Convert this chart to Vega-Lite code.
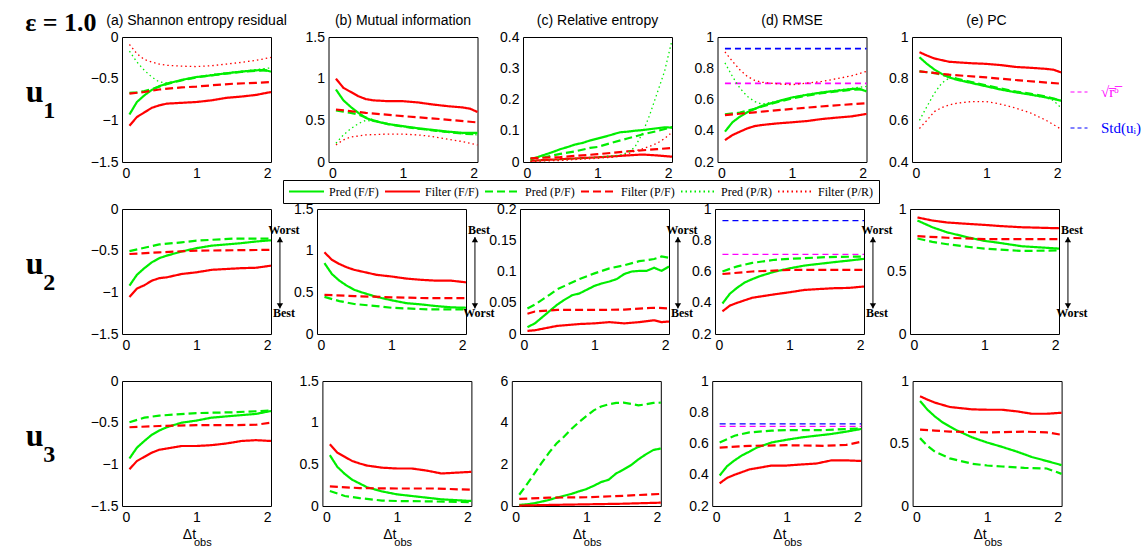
{
  "padding": {"left": 25, "top": 9, "right": 4, "bottom": 4},
  "title": {"text": "ε = 1.0", "anchor": "start", "font": "Liberation Serif", "fontSize": 26, "fontWeight": "bold", "color": "black", "offset": -22},
  "spacing": 20,
  "datasets": {
    "r1a": [
      {"s":"PFF","x":0.1,"y":-0.93},{"s":"PFF","x":0.2,"y":-0.78},{"s":"PFF","x":0.3,"y":-0.7},{"s":"PFF","x":0.4,"y":-0.635},{"s":"PFF","x":0.5,"y":-0.59},{"s":"PFF","x":0.6,"y":-0.56},{"s":"PFF","x":0.8,"y":-0.515},{"s":"PFF","x":1,"y":-0.48},{"s":"PFF","x":1.2,"y":-0.46},{"s":"PFF","x":1.4,"y":-0.435},{"s":"PFF","x":1.6,"y":-0.415},{"s":"PFF","x":1.8,"y":-0.4},{"s":"PFF","x":1.9,"y":-0.395},{"s":"PFF","x":2,"y":-0.415},
      {"s":"FFF","x":0.1,"y":-1.065},{"s":"FFF","x":0.2,"y":-0.96},{"s":"FFF","x":0.3,"y":-0.905},{"s":"FFF","x":0.4,"y":-0.85},{"s":"FFF","x":0.5,"y":-0.82},{"s":"FFF","x":0.6,"y":-0.8},{"s":"FFF","x":0.8,"y":-0.79},{"s":"FFF","x":1,"y":-0.78},{"s":"FFF","x":1.2,"y":-0.76},{"s":"FFF","x":1.4,"y":-0.73},{"s":"FFF","x":1.6,"y":-0.715},{"s":"FFF","x":1.8,"y":-0.695},{"s":"FFF","x":2,"y":-0.66},
      {"s":"PPF","x":0.1,"y":-0.67},{"s":"PPF","x":0.2,"y":-0.665},{"s":"PPF","x":0.3,"y":-0.65},{"s":"PPF","x":0.4,"y":-0.625},{"s":"PPF","x":0.5,"y":-0.595},{"s":"PPF","x":0.6,"y":-0.565},{"s":"PPF","x":0.8,"y":-0.52},{"s":"PPF","x":1,"y":-0.485},{"s":"PPF","x":1.2,"y":-0.46},{"s":"PPF","x":1.4,"y":-0.44},{"s":"PPF","x":1.6,"y":-0.42},{"s":"PPF","x":1.8,"y":-0.405},{"s":"PPF","x":2,"y":-0.4},
      {"s":"FPF","x":0.1,"y":-0.68},{"s":"FPF","x":0.3,"y":-0.66},{"s":"FPF","x":0.5,"y":-0.63},{"s":"FPF","x":0.8,"y":-0.605},{"s":"FPF","x":1,"y":-0.595},{"s":"FPF","x":1.2,"y":-0.58},{"s":"FPF","x":1.5,"y":-0.56},{"s":"FPF","x":1.8,"y":-0.55},{"s":"FPF","x":2,"y":-0.54},
      {"s":"PPR","x":0.1,"y":-0.17},{"s":"PPR","x":0.2,"y":-0.3},{"s":"PPR","x":0.3,"y":-0.4},{"s":"PPR","x":0.4,"y":-0.48},{"s":"PPR","x":0.5,"y":-0.54},{"s":"PPR","x":0.6,"y":-0.55},{"s":"PPR","x":0.8,"y":-0.52},{"s":"PPR","x":1,"y":-0.48},{"s":"PPR","x":1.2,"y":-0.45},{"s":"PPR","x":1.4,"y":-0.43},{"s":"PPR","x":1.6,"y":-0.41},{"s":"PPR","x":1.8,"y":-0.39},{"s":"PPR","x":2,"y":-0.37},
      {"s":"FPR","x":0.1,"y":-0.09},{"s":"FPR","x":0.2,"y":-0.2},{"s":"FPR","x":0.3,"y":-0.27},{"s":"FPR","x":0.4,"y":-0.3},{"s":"FPR","x":0.5,"y":-0.325},{"s":"FPR","x":0.6,"y":-0.34},{"s":"FPR","x":0.8,"y":-0.35},{"s":"FPR","x":1,"y":-0.355},{"s":"FPR","x":1.2,"y":-0.345},{"s":"FPR","x":1.4,"y":-0.325},{"s":"FPR","x":1.6,"y":-0.305},{"s":"FPR","x":1.8,"y":-0.28},{"s":"FPR","x":2,"y":-0.245}
    ],
    "r1b": [
      {"s":"FFF","x":0.1,"y":1},{"s":"FFF","x":0.2,"y":0.89},{"s":"FFF","x":0.3,"y":0.84},{"s":"FFF","x":0.4,"y":0.79},{"s":"FFF","x":0.5,"y":0.755},{"s":"FFF","x":0.6,"y":0.74},{"s":"FFF","x":0.8,"y":0.73},{"s":"FFF","x":1,"y":0.73},{"s":"FFF","x":1.2,"y":0.715},{"s":"FFF","x":1.4,"y":0.69},{"s":"FFF","x":1.6,"y":0.67},{"s":"FFF","x":1.8,"y":0.655},{"s":"FFF","x":1.9,"y":0.64},{"s":"FFF","x":2,"y":0.6},
      {"s":"PFF","x":0.1,"y":0.87},{"s":"PFF","x":0.2,"y":0.74},{"s":"PFF","x":0.3,"y":0.66},{"s":"PFF","x":0.4,"y":0.59},{"s":"PFF","x":0.5,"y":0.53},{"s":"PFF","x":0.6,"y":0.495},{"s":"PFF","x":0.8,"y":0.455},{"s":"PFF","x":1,"y":0.43},{"s":"PFF","x":1.2,"y":0.405},{"s":"PFF","x":1.4,"y":0.385},{"s":"PFF","x":1.6,"y":0.365},{"s":"PFF","x":1.8,"y":0.35},{"s":"PFF","x":2,"y":0.35},
      {"s":"PPF","x":0.1,"y":0.62},{"s":"PPF","x":0.2,"y":0.605},{"s":"PPF","x":0.3,"y":0.59},{"s":"PPF","x":0.4,"y":0.57},{"s":"PPF","x":0.5,"y":0.535},{"s":"PPF","x":0.6,"y":0.5},{"s":"PPF","x":0.8,"y":0.455},{"s":"PPF","x":1,"y":0.425},{"s":"PPF","x":1.2,"y":0.4},{"s":"PPF","x":1.4,"y":0.38},{"s":"PPF","x":1.6,"y":0.36},{"s":"PPF","x":1.8,"y":0.34},{"s":"PPF","x":2,"y":0.33},
      {"s":"FPF","x":0.1,"y":0.63},{"s":"FPF","x":0.5,"y":0.59},{"s":"FPF","x":1,"y":0.55},{"s":"FPF","x":1.5,"y":0.515},{"s":"FPF","x":2,"y":0.475},
      {"s":"PPR","x":0.1,"y":0.225},{"s":"PPR","x":0.2,"y":0.325},{"s":"PPR","x":0.3,"y":0.4},{"s":"PPR","x":0.4,"y":0.46},{"s":"PPR","x":0.5,"y":0.5},{"s":"PPR","x":0.6,"y":0.49},{"s":"PPR","x":0.8,"y":0.455},{"s":"PPR","x":1,"y":0.425},{"s":"PPR","x":1.2,"y":0.4},{"s":"PPR","x":1.4,"y":0.375},{"s":"PPR","x":1.6,"y":0.355},{"s":"PPR","x":1.8,"y":0.34},{"s":"PPR","x":2,"y":0.325},
      {"s":"FPR","x":0.1,"y":0.205},{"s":"FPR","x":0.2,"y":0.265},{"s":"FPR","x":0.3,"y":0.3},{"s":"FPR","x":0.5,"y":0.325},{"s":"FPR","x":0.8,"y":0.335},{"s":"FPR","x":1,"y":0.335},{"s":"FPR","x":1.2,"y":0.325},{"s":"FPR","x":1.4,"y":0.305},{"s":"FPR","x":1.6,"y":0.275},{"s":"FPR","x":1.8,"y":0.245},{"s":"FPR","x":2,"y":0.205}
    ],
    "r1c": [
      {"s":"PFF","x":0.1,"y":0.009},{"s":"PFF","x":0.2,"y":0.016},{"s":"PFF","x":0.3,"y":0.024},{"s":"PFF","x":0.4,"y":0.032},{"s":"PFF","x":0.5,"y":0.041},{"s":"PFF","x":0.6,"y":0.048},{"s":"PFF","x":0.7,"y":0.056},{"s":"PFF","x":0.8,"y":0.061},{"s":"PFF","x":0.9,"y":0.069},{"s":"PFF","x":1,"y":0.075},{"s":"PFF","x":1.1,"y":0.081},{"s":"PFF","x":1.2,"y":0.088},{"s":"PFF","x":1.3,"y":0.095},{"s":"PFF","x":1.4,"y":0.097},{"s":"PFF","x":1.5,"y":0.1},{"s":"PFF","x":1.6,"y":0.102},{"s":"PFF","x":1.7,"y":0.105},{"s":"PFF","x":1.8,"y":0.108},{"s":"PFF","x":1.9,"y":0.111},{"s":"PFF","x":2,"y":0.11},
      {"s":"PPF","x":0.1,"y":0.011},{"s":"PPF","x":0.3,"y":0.016},{"s":"PPF","x":0.5,"y":0.026},{"s":"PPF","x":0.7,"y":0.034},{"s":"PPF","x":0.9,"y":0.045},{"s":"PPF","x":1,"y":0.048},{"s":"PPF","x":1.2,"y":0.062},{"s":"PPF","x":1.4,"y":0.075},{"s":"PPF","x":1.6,"y":0.088},{"s":"PPF","x":1.8,"y":0.099},{"s":"PPF","x":2,"y":0.112},
      {"s":"FFF","x":0.1,"y":0.004},{"s":"FFF","x":0.5,"y":0.009},{"s":"FFF","x":1,"y":0.015},{"s":"FFF","x":1.4,"y":0.021},{"s":"FFF","x":1.6,"y":0.024},{"s":"FFF","x":1.8,"y":0.021},{"s":"FFF","x":2,"y":0.017},
      {"s":"FPF","x":0.1,"y":0.012},{"s":"FPF","x":0.5,"y":0.016},{"s":"FPF","x":1,"y":0.025},{"s":"FPF","x":1.4,"y":0.034},{"s":"FPF","x":1.8,"y":0.041},{"s":"FPF","x":2,"y":0.045},
      {"s":"PPR","x":0.1,"y":0.003},{"s":"PPR","x":0.5,"y":0.007},{"s":"PPR","x":1,"y":0.015},{"s":"PPR","x":1.3,"y":0.022},{"s":"PPR","x":1.4,"y":0.03},{"s":"PPR","x":1.5,"y":0.047},{"s":"PPR","x":1.6,"y":0.09},{"s":"PPR","x":1.7,"y":0.15},{"s":"PPR","x":1.8,"y":0.22},{"s":"PPR","x":1.9,"y":0.29},{"s":"PPR","x":2,"y":0.39},
      {"s":"FPR","x":0.1,"y":0.002},{"s":"FPR","x":0.5,"y":0.005},{"s":"FPR","x":1,"y":0.012},{"s":"FPR","x":1.2,"y":0.015},{"s":"FPR","x":1.4,"y":0.025},{"s":"FPR","x":1.5,"y":0.035},{"s":"FPR","x":1.6,"y":0.042},{"s":"FPR","x":1.7,"y":0.05},{"s":"FPR","x":1.8,"y":0.06},{"s":"FPR","x":1.9,"y":0.075},{"s":"FPR","x":2,"y":0.095}
    ],
    "r1d": [
      {"s":"PFF","x":0.1,"y":0.394},{"s":"PFF","x":0.2,"y":0.454},{"s":"PFF","x":0.3,"y":0.49},{"s":"PFF","x":0.4,"y":0.518},{"s":"PFF","x":0.5,"y":0.54},{"s":"PFF","x":0.6,"y":0.56},{"s":"PFF","x":0.8,"y":0.587},{"s":"PFF","x":1,"y":0.613},{"s":"PFF","x":1.2,"y":0.63},{"s":"PFF","x":1.4,"y":0.645},{"s":"PFF","x":1.6,"y":0.656},{"s":"PFF","x":1.8,"y":0.667},{"s":"PFF","x":1.9,"y":0.669},{"s":"PFF","x":2,"y":0.652},
      {"s":"PPF","x":0.1,"y":0.505},{"s":"PPF","x":0.3,"y":0.516},{"s":"PPF","x":0.5,"y":0.54},{"s":"PPF","x":0.6,"y":0.555},{"s":"PPF","x":0.8,"y":0.583},{"s":"PPF","x":1,"y":0.607},{"s":"PPF","x":1.2,"y":0.625},{"s":"PPF","x":1.4,"y":0.64},{"s":"PPF","x":1.6,"y":0.652},{"s":"PPF","x":1.8,"y":0.662},{"s":"PPF","x":2,"y":0.665},
      {"s":"FFF","x":0.1,"y":0.34},{"s":"FFF","x":0.2,"y":0.372},{"s":"FFF","x":0.3,"y":0.394},{"s":"FFF","x":0.4,"y":0.415},{"s":"FFF","x":0.5,"y":0.43},{"s":"FFF","x":0.6,"y":0.437},{"s":"FFF","x":0.8,"y":0.447},{"s":"FFF","x":1,"y":0.454},{"s":"FFF","x":1.2,"y":0.462},{"s":"FFF","x":1.4,"y":0.475},{"s":"FFF","x":1.6,"y":0.484},{"s":"FFF","x":1.8,"y":0.492},{"s":"FFF","x":2,"y":0.508},
      {"s":"FPF","x":0.1,"y":0.5},{"s":"FPF","x":0.5,"y":0.518},{"s":"FPF","x":1,"y":0.54},{"s":"FPF","x":1.5,"y":0.56},{"s":"FPF","x":2,"y":0.576},
      {"s":"PPR","x":0.1,"y":0.834},{"s":"PPR","x":0.2,"y":0.748},{"s":"PPR","x":0.3,"y":0.673},{"s":"PPR","x":0.4,"y":0.62},{"s":"PPR","x":0.5,"y":0.587},{"s":"PPR","x":0.6,"y":0.57},{"s":"PPR","x":0.8,"y":0.59},{"s":"PPR","x":1,"y":0.615},{"s":"PPR","x":1.2,"y":0.632},{"s":"PPR","x":1.4,"y":0.647},{"s":"PPR","x":1.6,"y":0.66},{"s":"PPR","x":1.8,"y":0.672},{"s":"PPR","x":2,"y":0.684},
      {"s":"FPR","x":0.1,"y":0.905},{"s":"FPR","x":0.2,"y":0.845},{"s":"FPR","x":0.3,"y":0.79},{"s":"FPR","x":0.4,"y":0.748},{"s":"FPR","x":0.5,"y":0.722},{"s":"FPR","x":0.6,"y":0.71},{"s":"FPR","x":0.8,"y":0.7},{"s":"FPR","x":1,"y":0.695},{"s":"FPR","x":1.2,"y":0.705},{"s":"FPR","x":1.4,"y":0.716},{"s":"FPR","x":1.6,"y":0.733},{"s":"FPR","x":1.8,"y":0.752},{"s":"FPR","x":2,"y":0.78}
    ],
    "r1e": [
      {"s":"FFF","x":0.1,"y":0.927},{"s":"FFF","x":0.2,"y":0.911},{"s":"FFF","x":0.3,"y":0.897},{"s":"FFF","x":0.5,"y":0.881},{"s":"FFF","x":0.8,"y":0.874},{"s":"FFF","x":1,"y":0.871},{"s":"FFF","x":1.2,"y":0.865},{"s":"FFF","x":1.4,"y":0.856},{"s":"FFF","x":1.6,"y":0.852},{"s":"FFF","x":1.8,"y":0.847},{"s":"FFF","x":1.9,"y":0.843},{"s":"FFF","x":2,"y":0.83},
      {"s":"PFF","x":0.1,"y":0.903},{"s":"PFF","x":0.2,"y":0.871},{"s":"PFF","x":0.3,"y":0.844},{"s":"PFF","x":0.4,"y":0.823},{"s":"PFF","x":0.5,"y":0.806},{"s":"PFF","x":0.6,"y":0.795},{"s":"PFF","x":0.8,"y":0.779},{"s":"PFF","x":1,"y":0.763},{"s":"PFF","x":1.2,"y":0.747},{"s":"PFF","x":1.4,"y":0.734},{"s":"PFF","x":1.6,"y":0.723},{"s":"PFF","x":1.8,"y":0.71},{"s":"PFF","x":1.9,"y":0.703},{"s":"PFF","x":2,"y":0.694},
      {"s":"PPF","x":0.1,"y":0.835},{"s":"PPF","x":0.3,"y":0.827},{"s":"PPF","x":0.5,"y":0.81},{"s":"PPF","x":0.6,"y":0.8},{"s":"PPF","x":0.8,"y":0.784},{"s":"PPF","x":1,"y":0.768},{"s":"PPF","x":1.2,"y":0.752},{"s":"PPF","x":1.4,"y":0.738},{"s":"PPF","x":1.6,"y":0.727},{"s":"PPF","x":1.8,"y":0.714},{"s":"PPF","x":2,"y":0.695},
      {"s":"FPF","x":0.1,"y":0.835},{"s":"FPF","x":0.5,"y":0.819},{"s":"FPF","x":1,"y":0.806},{"s":"FPF","x":1.5,"y":0.79},{"s":"FPF","x":2,"y":0.776},
      {"s":"PPR","x":0.1,"y":0.6},{"s":"PPR","x":0.2,"y":0.666},{"s":"PPR","x":0.3,"y":0.73},{"s":"PPR","x":0.4,"y":0.779},{"s":"PPR","x":0.5,"y":0.803},{"s":"PPR","x":0.6,"y":0.798},{"s":"PPR","x":0.8,"y":0.783},{"s":"PPR","x":1,"y":0.765},{"s":"PPR","x":1.2,"y":0.75},{"s":"PPR","x":1.4,"y":0.735},{"s":"PPR","x":1.6,"y":0.722},{"s":"PPR","x":1.8,"y":0.708},{"s":"PPR","x":1.9,"y":0.695},{"s":"PPR","x":2,"y":0.66},
      {"s":"FPR","x":0.1,"y":0.561},{"s":"FPR","x":0.2,"y":0.6},{"s":"FPR","x":0.3,"y":0.642},{"s":"FPR","x":0.4,"y":0.661},{"s":"FPR","x":0.5,"y":0.674},{"s":"FPR","x":0.6,"y":0.682},{"s":"FPR","x":0.8,"y":0.69},{"s":"FPR","x":1,"y":0.69},{"s":"FPR","x":1.2,"y":0.677},{"s":"FPR","x":1.4,"y":0.658},{"s":"FPR","x":1.6,"y":0.634},{"s":"FPR","x":1.8,"y":0.6},{"s":"FPR","x":2,"y":0.558}
    ],
    "r2a": [
      {"s":"PPF","x":0.1,"y":-0.505},{"s":"PPF","x":0.3,"y":-0.465},{"s":"PPF","x":0.5,"y":-0.425},{"s":"PPF","x":0.8,"y":-0.4},{"s":"PPF","x":1,"y":-0.38},{"s":"PPF","x":1.5,"y":-0.355},{"s":"PPF","x":2,"y":-0.355},
      {"s":"PFF","x":0.1,"y":-0.92},{"s":"PFF","x":0.2,"y":-0.79},{"s":"PFF","x":0.3,"y":-0.71},{"s":"PFF","x":0.4,"y":-0.64},{"s":"PFF","x":0.5,"y":-0.59},{"s":"PFF","x":0.6,"y":-0.56},{"s":"PFF","x":0.8,"y":-0.51},{"s":"PFF","x":1,"y":-0.47},{"s":"PFF","x":1.2,"y":-0.44},{"s":"PFF","x":1.4,"y":-0.425},{"s":"PFF","x":1.6,"y":-0.41},{"s":"PFF","x":1.8,"y":-0.39},{"s":"PFF","x":2,"y":-0.375},
      {"s":"FPF","x":0.1,"y":-0.54},{"s":"FPF","x":0.5,"y":-0.52},{"s":"FPF","x":1,"y":-0.5},{"s":"FPF","x":2,"y":-0.49},
      {"s":"FFF","x":0.1,"y":-1.055},{"s":"FFF","x":0.2,"y":-0.955},{"s":"FFF","x":0.3,"y":-0.915},{"s":"FFF","x":0.4,"y":-0.86},{"s":"FFF","x":0.5,"y":-0.83},{"s":"FFF","x":0.6,"y":-0.82},{"s":"FFF","x":0.8,"y":-0.78},{"s":"FFF","x":1,"y":-0.76},{"s":"FFF","x":1.2,"y":-0.73},{"s":"FFF","x":1.4,"y":-0.72},{"s":"FFF","x":1.6,"y":-0.71},{"s":"FFF","x":1.8,"y":-0.705},{"s":"FFF","x":2,"y":-0.68}
    ],
    "r2b": [
      {"s":"FFF","x":0.1,"y":0.98},{"s":"FFF","x":0.2,"y":0.89},{"s":"FFF","x":0.3,"y":0.84},{"s":"FFF","x":0.4,"y":0.8},{"s":"FFF","x":0.5,"y":0.77},{"s":"FFF","x":0.6,"y":0.75},{"s":"FFF","x":0.8,"y":0.71},{"s":"FFF","x":1,"y":0.69},{"s":"FFF","x":1.2,"y":0.665},{"s":"FFF","x":1.4,"y":0.65},{"s":"FFF","x":1.6,"y":0.64},{"s":"FFF","x":1.8,"y":0.64},{"s":"FFF","x":2,"y":0.62},
      {"s":"PFF","x":0.1,"y":0.85},{"s":"PFF","x":0.2,"y":0.72},{"s":"PFF","x":0.3,"y":0.64},{"s":"PFF","x":0.4,"y":0.58},{"s":"PFF","x":0.5,"y":0.53},{"s":"PFF","x":0.6,"y":0.5},{"s":"PFF","x":0.8,"y":0.445},{"s":"PFF","x":1,"y":0.405},{"s":"PFF","x":1.2,"y":0.37},{"s":"PFF","x":1.4,"y":0.355},{"s":"PFF","x":1.6,"y":0.335},{"s":"PFF","x":1.8,"y":0.32},{"s":"PFF","x":2,"y":0.315},
      {"s":"FPF","x":0.1,"y":0.47},{"s":"FPF","x":0.5,"y":0.455},{"s":"FPF","x":1,"y":0.44},{"s":"FPF","x":1.5,"y":0.43},{"s":"FPF","x":2,"y":0.43},
      {"s":"PPF","x":0.1,"y":0.445},{"s":"PPF","x":0.3,"y":0.395},{"s":"PPF","x":0.5,"y":0.36},{"s":"PPF","x":0.8,"y":0.335},{"s":"PPF","x":1,"y":0.315},{"s":"PPF","x":1.5,"y":0.295},{"s":"PPF","x":2,"y":0.295}
    ],
    "r2c": [
      {"s":"PPF","x":0.1,"y":0.0407},{"s":"PPF","x":0.2,"y":0.047},{"s":"PPF","x":0.3,"y":0.055},{"s":"PPF","x":0.4,"y":0.063},{"s":"PPF","x":0.5,"y":0.0715},{"s":"PPF","x":0.6,"y":0.077},{"s":"PPF","x":0.8,"y":0.088},{"s":"PPF","x":1,"y":0.097},{"s":"PPF","x":1.2,"y":0.105},{"s":"PPF","x":1.4,"y":0.11},{"s":"PPF","x":1.6,"y":0.1165},{"s":"PPF","x":1.7,"y":0.118},{"s":"PPF","x":1.8,"y":0.12},{"s":"PPF","x":1.9,"y":0.124},{"s":"PPF","x":2,"y":0.122},
      {"s":"PFF","x":0.1,"y":0.011},{"s":"PFF","x":0.2,"y":0.017},{"s":"PFF","x":0.3,"y":0.027},{"s":"PFF","x":0.4,"y":0.037},{"s":"PFF","x":0.5,"y":0.047},{"s":"PFF","x":0.6,"y":0.055},{"s":"PFF","x":0.7,"y":0.062},{"s":"PFF","x":0.8,"y":0.065},{"s":"PFF","x":1,"y":0.077},{"s":"PFF","x":1.1,"y":0.081},{"s":"PFF","x":1.2,"y":0.084},{"s":"PFF","x":1.3,"y":0.088},{"s":"PFF","x":1.4,"y":0.096},{"s":"PFF","x":1.5,"y":0.1},{"s":"PFF","x":1.6,"y":0.101},{"s":"PFF","x":1.7,"y":0.101},{"s":"PFF","x":1.8,"y":0.106},{"s":"PFF","x":1.9,"y":0.101},{"s":"PFF","x":2,"y":0.108},
      {"s":"FPF","x":0.1,"y":0.0325},{"s":"FPF","x":0.2,"y":0.036},{"s":"FPF","x":0.5,"y":0.0385},{"s":"FPF","x":1,"y":0.0385},{"s":"FPF","x":1.4,"y":0.039},{"s":"FPF","x":1.8,"y":0.042},{"s":"FPF","x":2,"y":0.041},
      {"s":"FFF","x":0.1,"y":0.005},{"s":"FFF","x":0.2,"y":0.006},{"s":"FFF","x":0.5,"y":0.013},{"s":"FFF","x":0.8,"y":0.016},{"s":"FFF","x":1,"y":0.017},{"s":"FFF","x":1.2,"y":0.019},{"s":"FFF","x":1.4,"y":0.017},{"s":"FFF","x":1.6,"y":0.019},{"s":"FFF","x":1.8,"y":0.022},{"s":"FFF","x":1.9,"y":0.019},{"s":"FFF","x":2,"y":0.02}
    ],
    "r2d": [
      {"s":"PPF","x":0.1,"y":0.6},{"s":"PPF","x":0.2,"y":0.617},{"s":"PPF","x":0.3,"y":0.633},{"s":"PPF","x":0.5,"y":0.655},{"s":"PPF","x":0.8,"y":0.675},{"s":"PPF","x":1,"y":0.681},{"s":"PPF","x":1.5,"y":0.692},{"s":"PPF","x":2,"y":0.696},
      {"s":"PFF","x":0.1,"y":0.395},{"s":"PFF","x":0.2,"y":0.458},{"s":"PFF","x":0.3,"y":0.497},{"s":"PFF","x":0.4,"y":0.53},{"s":"PFF","x":0.5,"y":0.551},{"s":"PFF","x":0.6,"y":0.57},{"s":"PFF","x":0.8,"y":0.599},{"s":"PFF","x":1,"y":0.62},{"s":"PFF","x":1.2,"y":0.638},{"s":"PFF","x":1.4,"y":0.649},{"s":"PFF","x":1.6,"y":0.66},{"s":"PFF","x":1.8,"y":0.67},{"s":"PFF","x":2,"y":0.681},
      {"s":"FPF","x":0.1,"y":0.584},{"s":"FPF","x":0.5,"y":0.6},{"s":"FPF","x":1,"y":0.61},{"s":"FPF","x":2,"y":0.61},
      {"s":"FFF","x":0.1,"y":0.345},{"s":"FFF","x":0.2,"y":0.382},{"s":"FFF","x":0.3,"y":0.4},{"s":"FFF","x":0.5,"y":0.432},{"s":"FFF","x":0.8,"y":0.454},{"s":"FFF","x":1,"y":0.467},{"s":"FFF","x":1.2,"y":0.482},{"s":"FFF","x":1.4,"y":0.488},{"s":"FFF","x":1.6,"y":0.493},{"s":"FFF","x":1.8,"y":0.495},{"s":"FFF","x":2,"y":0.504}
    ],
    "r2e": [
      {"s":"FFF","x":0.1,"y":0.932},{"s":"FFF","x":0.3,"y":0.908},{"s":"FFF","x":0.5,"y":0.892},{"s":"FFF","x":0.8,"y":0.88},{"s":"FFF","x":1,"y":0.873},{"s":"FFF","x":1.2,"y":0.864},{"s":"FFF","x":1.5,"y":0.854},{"s":"FFF","x":2,"y":0.846},
      {"s":"PFF","x":0.1,"y":0.908},{"s":"PFF","x":0.3,"y":0.854},{"s":"PFF","x":0.5,"y":0.813},{"s":"PFF","x":0.8,"y":0.77},{"s":"PFF","x":1,"y":0.745},{"s":"PFF","x":1.2,"y":0.729},{"s":"PFF","x":1.5,"y":0.702},{"s":"PFF","x":1.8,"y":0.691},{"s":"PFF","x":2,"y":0.683},
      {"s":"FPF","x":0.1,"y":0.783},{"s":"FPF","x":0.5,"y":0.77},{"s":"FPF","x":1,"y":0.759},{"s":"FPF","x":1.5,"y":0.759},{"s":"FPF","x":2,"y":0.759},
      {"s":"PPF","x":0.1,"y":0.764},{"s":"PPF","x":0.3,"y":0.737},{"s":"PPF","x":0.5,"y":0.718},{"s":"PPF","x":0.8,"y":0.696},{"s":"PPF","x":1,"y":0.683},{"s":"PPF","x":1.5,"y":0.664},{"s":"PPF","x":2,"y":0.669}
    ],
    "r3a": [
      {"s":"PPF","x":0.1,"y":-0.495},{"s":"PPF","x":0.3,"y":-0.44},{"s":"PPF","x":0.5,"y":-0.415},{"s":"PPF","x":1,"y":-0.385},{"s":"PPF","x":1.5,"y":-0.375},{"s":"PPF","x":2,"y":-0.355},
      {"s":"PFF","x":0.1,"y":-0.93},{"s":"PFF","x":0.2,"y":-0.8},{"s":"PFF","x":0.3,"y":-0.72},{"s":"PFF","x":0.4,"y":-0.645},{"s":"PFF","x":0.5,"y":-0.595},{"s":"PFF","x":0.6,"y":-0.555},{"s":"PFF","x":0.8,"y":-0.5},{"s":"PFF","x":1,"y":-0.475},{"s":"PFF","x":1.2,"y":-0.44},{"s":"PFF","x":1.4,"y":-0.425},{"s":"PFF","x":1.6,"y":-0.41},{"s":"PFF","x":1.8,"y":-0.395},{"s":"PFF","x":2,"y":-0.36},
      {"s":"FPF","x":0.1,"y":-0.555},{"s":"FPF","x":0.5,"y":-0.54},{"s":"FPF","x":1,"y":-0.53},{"s":"FPF","x":1.5,"y":-0.53},{"s":"FPF","x":1.8,"y":-0.525},{"s":"FPF","x":2,"y":-0.5},
      {"s":"FFF","x":0.1,"y":-1.06},{"s":"FFF","x":0.2,"y":-0.96},{"s":"FFF","x":0.3,"y":-0.91},{"s":"FFF","x":0.4,"y":-0.86},{"s":"FFF","x":0.5,"y":-0.825},{"s":"FFF","x":0.6,"y":-0.81},{"s":"FFF","x":0.8,"y":-0.78},{"s":"FFF","x":1,"y":-0.78},{"s":"FFF","x":1.2,"y":-0.77},{"s":"FFF","x":1.4,"y":-0.75},{"s":"FFF","x":1.6,"y":-0.72},{"s":"FFF","x":1.8,"y":-0.71},{"s":"FFF","x":2,"y":-0.72}
    ],
    "r3b": [
      {"s":"FFF","x":0.1,"y":0.74},{"s":"FFF","x":0.2,"y":0.64},{"s":"FFF","x":0.3,"y":0.59},{"s":"FFF","x":0.4,"y":0.54},{"s":"FFF","x":0.5,"y":0.51},{"s":"FFF","x":0.6,"y":0.485},{"s":"FFF","x":0.8,"y":0.46},{"s":"FFF","x":1,"y":0.45},{"s":"FFF","x":1.2,"y":0.45},{"s":"FFF","x":1.4,"y":0.425},{"s":"FFF","x":1.6,"y":0.39},{"s":"FFF","x":1.8,"y":0.4},{"s":"FFF","x":2,"y":0.41},
      {"s":"PFF","x":0.1,"y":0.61},{"s":"PFF","x":0.2,"y":0.47},{"s":"PFF","x":0.3,"y":0.385},{"s":"PFF","x":0.4,"y":0.315},{"s":"PFF","x":0.5,"y":0.27},{"s":"PFF","x":0.6,"y":0.225},{"s":"PFF","x":0.8,"y":0.175},{"s":"PFF","x":1,"y":0.14},{"s":"PFF","x":1.2,"y":0.12},{"s":"PFF","x":1.4,"y":0.1},{"s":"PFF","x":1.6,"y":0.08},{"s":"PFF","x":1.8,"y":0.07},{"s":"PFF","x":2,"y":0.06},
      {"s":"FPF","x":0.1,"y":0.235},{"s":"FPF","x":0.5,"y":0.215},{"s":"FPF","x":1,"y":0.21},{"s":"FPF","x":1.5,"y":0.21},{"s":"FPF","x":2,"y":0.195},
      {"s":"PPF","x":0.1,"y":0.18},{"s":"PPF","x":0.3,"y":0.12},{"s":"PPF","x":0.5,"y":0.095},{"s":"PPF","x":0.8,"y":0.065},{"s":"PPF","x":1,"y":0.06},{"s":"PPF","x":1.5,"y":0.055},{"s":"PPF","x":2,"y":0.045}
    ],
    "r3c": [
      {"s":"PPF","x":0.1,"y":0.54},{"s":"PPF","x":0.2,"y":1.03},{"s":"PPF","x":0.3,"y":1.54},{"s":"PPF","x":0.4,"y":2.07},{"s":"PPF","x":0.5,"y":2.56},{"s":"PPF","x":0.6,"y":3},{"s":"PPF","x":0.7,"y":3.32},{"s":"PPF","x":0.8,"y":3.7},{"s":"PPF","x":0.9,"y":4.02},{"s":"PPF","x":1,"y":4.31},{"s":"PPF","x":1.1,"y":4.59},{"s":"PPF","x":1.2,"y":4.78},{"s":"PPF","x":1.3,"y":4.88},{"s":"PPF","x":1.4,"y":4.95},{"s":"PPF","x":1.5,"y":4.96},{"s":"PPF","x":1.6,"y":4.9},{"s":"PPF","x":1.7,"y":4.83},{"s":"PPF","x":1.8,"y":4.88},{"s":"PPF","x":1.9,"y":4.95},{"s":"PPF","x":2,"y":4.96},
      {"s":"PFF","x":0.1,"y":0.05},{"s":"PFF","x":0.2,"y":0.08},{"s":"PFF","x":0.3,"y":0.13},{"s":"PFF","x":0.4,"y":0.21},{"s":"PFF","x":0.5,"y":0.29},{"s":"PFF","x":0.6,"y":0.4},{"s":"PFF","x":0.7,"y":0.49},{"s":"PFF","x":0.8,"y":0.58},{"s":"PFF","x":0.9,"y":0.7},{"s":"PFF","x":1,"y":0.81},{"s":"PFF","x":1.1,"y":0.97},{"s":"PFF","x":1.2,"y":1.15},{"s":"PFF","x":1.3,"y":1.26},{"s":"PFF","x":1.4,"y":1.56},{"s":"PFF","x":1.5,"y":1.75},{"s":"PFF","x":1.6,"y":1.96},{"s":"PFF","x":1.7,"y":2.24},{"s":"PFF","x":1.8,"y":2.48},{"s":"PFF","x":1.9,"y":2.69},{"s":"PFF","x":2,"y":2.76},
      {"s":"FPF","x":0.1,"y":0.34},{"s":"FPF","x":0.5,"y":0.4},{"s":"FPF","x":1,"y":0.42},{"s":"FPF","x":1.5,"y":0.49},{"s":"FPF","x":2,"y":0.58},
      {"s":"FFF","x":0.1,"y":0.02},{"s":"FFF","x":0.5,"y":0.05},{"s":"FFF","x":1,"y":0.08},{"s":"FFF","x":1.5,"y":0.11},{"s":"FFF","x":2,"y":0.16}
    ],
    "r3d": [
      {"s":"PPF","x":0.1,"y":0.607},{"s":"PPF","x":0.2,"y":0.628},{"s":"PPF","x":0.3,"y":0.65},{"s":"PPF","x":0.5,"y":0.671},{"s":"PPF","x":0.8,"y":0.682},{"s":"PPF","x":1,"y":0.686},{"s":"PPF","x":1.5,"y":0.686},{"s":"PPF","x":2,"y":0.697},
      {"s":"PFF","x":0.1,"y":0.395},{"s":"PFF","x":0.2,"y":0.455},{"s":"PFF","x":0.3,"y":0.492},{"s":"PFF","x":0.4,"y":0.524},{"s":"PFF","x":0.5,"y":0.548},{"s":"PFF","x":0.6,"y":0.574},{"s":"PFF","x":0.8,"y":0.607},{"s":"PFF","x":1,"y":0.624},{"s":"PFF","x":1.2,"y":0.639},{"s":"PFF","x":1.4,"y":0.65},{"s":"PFF","x":1.6,"y":0.661},{"s":"PFF","x":1.8,"y":0.676},{"s":"PFF","x":2,"y":0.693},
      {"s":"FPF","x":0.1,"y":0.574},{"s":"FPF","x":0.5,"y":0.585},{"s":"FPF","x":1,"y":0.589},{"s":"FPF","x":1.5,"y":0.585},{"s":"FPF","x":1.8,"y":0.591},{"s":"FPF","x":2,"y":0.611},
      {"s":"FFF","x":0.1,"y":0.345},{"s":"FFF","x":0.2,"y":0.38},{"s":"FFF","x":0.3,"y":0.4},{"s":"FFF","x":0.5,"y":0.434},{"s":"FFF","x":0.8,"y":0.459},{"s":"FFF","x":1,"y":0.459},{"s":"FFF","x":1.2,"y":0.466},{"s":"FFF","x":1.4,"y":0.472},{"s":"FFF","x":1.6,"y":0.492},{"s":"FFF","x":1.8,"y":0.492},{"s":"FFF","x":2,"y":0.488}
    ],
    "r3e": [
      {"s":"FFF","x":0.1,"y":0.878},{"s":"FFF","x":0.2,"y":0.851},{"s":"FFF","x":0.3,"y":0.827},{"s":"FFF","x":0.5,"y":0.792},{"s":"FFF","x":0.8,"y":0.773},{"s":"FFF","x":1,"y":0.77},{"s":"FFF","x":1.2,"y":0.77},{"s":"FFF","x":1.4,"y":0.757},{"s":"FFF","x":1.6,"y":0.738},{"s":"FFF","x":1.8,"y":0.738},{"s":"FFF","x":2,"y":0.746},
      {"s":"PFF","x":0.1,"y":0.84},{"s":"PFF","x":0.2,"y":0.77},{"s":"PFF","x":0.3,"y":0.716},{"s":"PFF","x":0.4,"y":0.67},{"s":"PFF","x":0.5,"y":0.635},{"s":"PFF","x":0.6,"y":0.603},{"s":"PFF","x":0.8,"y":0.549},{"s":"PFF","x":1,"y":0.508},{"s":"PFF","x":1.2,"y":0.473},{"s":"PFF","x":1.4,"y":0.435},{"s":"PFF","x":1.6,"y":0.392},{"s":"PFF","x":1.8,"y":0.36},{"s":"PFF","x":2,"y":0.327},
      {"s":"FPF","x":0.1,"y":0.611},{"s":"FPF","x":0.3,"y":0.603},{"s":"FPF","x":0.5,"y":0.595},{"s":"FPF","x":1,"y":0.589},{"s":"FPF","x":1.5,"y":0.595},{"s":"FPF","x":1.8,"y":0.589},{"s":"FPF","x":2,"y":0.57},
      {"s":"PPF","x":0.1,"y":0.543},{"s":"PPF","x":0.2,"y":0.481},{"s":"PPF","x":0.3,"y":0.435},{"s":"PPF","x":0.5,"y":0.381},{"s":"PPF","x":0.8,"y":0.338},{"s":"PPF","x":1,"y":0.324},{"s":"PPF","x":1.2,"y":0.316},{"s":"PPF","x":1.5,"y":0.305},{"s":"PPF","x":1.8,"y":0.3},{"s":"PPF","x":2,"y":0.257}
    ],
    "ref1": [{"r":"sqrt","x":0.1,"y":0.703},{"r":"sqrt","x":2,"y":0.703},{"r":"std","x":0.1,"y":0.925},{"r":"std","x":2,"y":0.925}],
    "ref2": [{"r":"sqrt","x":0.1,"y":0.71},{"r":"sqrt","x":2,"y":0.71},{"r":"std","x":0.1,"y":0.925},{"r":"std","x":2,"y":0.925}],
    "ref3": [{"r":"sqrt","x":0.1,"y":0.71},{"r":"sqrt","x":2,"y":0.71},{"r":"std","x":0.1,"y":0.725},{"r":"std","x":2,"y":0.725}],
    "annWB": [{"k":"Worst","x":2.12,"f":0.83},{"k":"Best","x":2.12,"f":0.165}],
    "annBW": [{"k":"Best","x":2.12,"f":0.83},{"k":"Worst","x":2.12,"f":0.165}],
    "annShaft": [{"x":2.12,"f":0.205,"f2":0.775}],
    "annUp": [{"x":2.12,"f":0.755}],
    "annDown": [{"x":2.12,"f":0.225}],
    "labDt": [{"t":"Δt","x":0.906,"f":-0.264}],
    "labObs": [{"t":"obs","x":1.085,"f":-0.32}],
    "labU": [{"t":"u","x":-1.174,"f":0.484}],
    "labSub1": [{"t":"1","x":-0.975,"f":0.356}],
    "labSub2": [{"t":"2","x":-0.975,"f":0.356}],
    "labSub3": [{"t":"3","x":-0.975,"f":0.356}]
  },
  "vconcat": [
    {"spacing": 16.5, "hconcat": [
      {
        "width": 149, "height": 125, "title": "(a) Shannon entropy residual",
        "resolve": {"scale": {"y": "independent"}},
        "layer": [
          {"data": {"name": "r1a"}, "transform": [{"filter": "datum.s != 'PPR' && datum.s != 'FPR'"}], "mark": {"type": "line", "strokeWidth": 2.2},
           "encoding": {
             "x": {"field": "x", "type": "quantitative", "scale": {"domain": [0, 2]}, "axis": {"values": [0, 1, 2], "title": null, "format": "~g"}},
             "y": {"field": "y", "type": "quantitative", "scale": {"domain": [-1.5, 0]}, "axis": {"values": [-1.5, -1, -0.5, 0], "title": null, "format": "~g"}},
             "color": {"field": "s", "type": "nominal", "scale": {"domain": ["PFF","FFF","PPF","FPF","PPR","FPR"], "range": ["#00ee00","#ff0000","#00ee00","#ff0000","#00ee00","#ff0000"]},
               "legend": {"title": null, "orient": "none", "legendX": 161, "legendY": 143, "direction": "horizontal", "columnPadding": 5, "clipHeight": 13, "strokeColor": "black", "padding": 5, "symbolType": "stroke", "symbolSize": 1225, "symbolStrokeWidth": 2, "labelFont": "Liberation Serif", "labelFontSize": 12, "labelOffset": 4, "labelColor": "black",
                 "labelExpr": "datum.label == 'PFF' ? 'Pred (F/F)' : datum.label == 'FFF' ? 'Filter (F/F)' : datum.label == 'PPF' ? 'Pred (P/F)' : datum.label == 'FPF' ? 'Filter (P/F)' : datum.label == 'PPR' ? 'Pred (P/R)' : 'Filter (P/R)'"}},
             "strokeDash": {"field": "s", "type": "nominal", "scale": {"domain": ["PFF","FFF","PPF","FPF","PPR","FPR"], "range": [[1,0],[1,0],[8,4],[8,4],[1.5,3],[1.5,3]]}}
           }},
          {"data": {"name": "r1a"}, "transform": [{"filter": "datum.s == 'PPR' || datum.s == 'FPR'"}], "mark": {"type": "line", "strokeWidth": 1.3},
           "encoding": {
             "x": {"field": "x", "type": "quantitative", "scale": {"domain": [0, 2]}, "axis": {"values": [0, 1, 2], "title": null, "format": "~g"}},
             "y": {"field": "y", "type": "quantitative", "scale": {"domain": [-1.5, 0]}, "axis": null},
             "color": {"field": "s", "type": "nominal", "scale": {"domain": ["PFF","FFF","PPF","FPF","PPR","FPR"], "range": ["#00ee00","#ff0000","#00ee00","#ff0000","#00ee00","#ff0000"]}},
             "strokeDash": {"field": "s", "type": "nominal", "scale": {"domain": ["PFF","FFF","PPF","FPF","PPR","FPR"], "range": [[1,0],[1,0],[8,4],[8,4],[1.5,3],[1.5,3]]}}
           }},
          {"data": {"name": "labU"}, "mark": {"type": "text", "font": "Liberation Serif", "fontWeight": "bold", "fontSize": 32, "baseline": "alphabetic"},
           "encoding": {"x": {"field": "x", "type": "quantitative", "scale": {"domain": [0, 2]}}, "y": {"field": "f", "type": "quantitative", "scale": {"domain": [0, 1]}, "axis": null}, "text": {"field": "t"}}},
          {"data": {"name": "labSub1"}, "mark": {"type": "text", "font": "Liberation Serif", "fontWeight": "bold", "fontSize": 24, "baseline": "alphabetic"},
           "encoding": {"x": {"field": "x", "type": "quantitative", "scale": {"domain": [0, 2]}}, "y": {"field": "f", "type": "quantitative", "scale": {"domain": [0, 1]}, "axis": null}, "text": {"field": "t"}}}
        ]
      },
      {
        "width": 149, "height": 125, "title": "(b) Mutual information",
        "layer": [
          {"data": {"name": "r1b"}, "transform": [{"filter": "datum.s != 'PPR' && datum.s != 'FPR'"}], "mark": {"type": "line", "strokeWidth": 2.2},
           "encoding": {
             "x": {"field": "x", "type": "quantitative", "scale": {"domain": [0, 2]}, "axis": {"values": [0, 1, 2], "title": null, "format": "~g"}},
             "y": {"field": "y", "type": "quantitative", "scale": {"domain": [0, 1.5]}, "axis": {"values": [0, 0.5, 1, 1.5], "title": null, "format": "~g"}},
             "color": {"field": "s", "type": "nominal", "scale": {"domain": ["PFF","FFF","PPF","FPF","PPR","FPR"], "range": ["#00ee00","#ff0000","#00ee00","#ff0000","#00ee00","#ff0000"]}},
             "strokeDash": {"field": "s", "type": "nominal", "scale": {"domain": ["PFF","FFF","PPF","FPF","PPR","FPR"], "range": [[1,0],[1,0],[8,4],[8,4],[1.5,3],[1.5,3]]}}
           }},
          {"data": {"name": "r1b"}, "transform": [{"filter": "datum.s == 'PPR' || datum.s == 'FPR'"}], "mark": {"type": "line", "strokeWidth": 1.3},
           "encoding": {
             "x": {"field": "x", "type": "quantitative", "scale": {"domain": [0, 2]}, "axis": {"values": [0, 1, 2], "title": null, "format": "~g"}},
             "y": {"field": "y", "type": "quantitative", "scale": {"domain": [0, 1.5]}, "axis": {"values": [0, 0.5, 1, 1.5], "title": null, "format": "~g"}},
             "color": {"field": "s", "type": "nominal", "scale": {"domain": ["PFF","FFF","PPF","FPF","PPR","FPR"], "range": ["#00ee00","#ff0000","#00ee00","#ff0000","#00ee00","#ff0000"]}},
             "strokeDash": {"field": "s", "type": "nominal", "scale": {"domain": ["PFF","FFF","PPF","FPF","PPR","FPR"], "range": [[1,0],[1,0],[8,4],[8,4],[1.5,3],[1.5,3]]}}
           }}
        ]
      },
      {
        "width": 149, "height": 125, "title": "(c) Relative entropy",
        "layer": [
          {"data": {"name": "r1c"}, "transform": [{"filter": "datum.s != 'PPR' && datum.s != 'FPR'"}], "mark": {"type": "line", "strokeWidth": 2.2},
           "encoding": {
             "x": {"field": "x", "type": "quantitative", "scale": {"domain": [0, 2]}, "axis": {"values": [0, 1, 2], "title": null, "format": "~g"}},
             "y": {"field": "y", "type": "quantitative", "scale": {"domain": [0, 0.4]}, "axis": {"values": [0, 0.1, 0.2, 0.3, 0.4], "title": null, "format": "~g"}},
             "color": {"field": "s", "type": "nominal", "scale": {"domain": ["PFF","FFF","PPF","FPF","PPR","FPR"], "range": ["#00ee00","#ff0000","#00ee00","#ff0000","#00ee00","#ff0000"]}},
             "strokeDash": {"field": "s", "type": "nominal", "scale": {"domain": ["PFF","FFF","PPF","FPF","PPR","FPR"], "range": [[1,0],[1,0],[8,4],[8,4],[1.5,3],[1.5,3]]}}
           }},
          {"data": {"name": "r1c"}, "transform": [{"filter": "datum.s == 'PPR' || datum.s == 'FPR'"}], "mark": {"type": "line", "strokeWidth": 1.3},
           "encoding": {
             "x": {"field": "x", "type": "quantitative", "scale": {"domain": [0, 2]}, "axis": {"values": [0, 1, 2], "title": null, "format": "~g"}},
             "y": {"field": "y", "type": "quantitative", "scale": {"domain": [0, 0.4]}, "axis": {"values": [0, 0.1, 0.2, 0.3, 0.4], "title": null, "format": "~g"}},
             "color": {"field": "s", "type": "nominal", "scale": {"domain": ["PFF","FFF","PPF","FPF","PPR","FPR"], "range": ["#00ee00","#ff0000","#00ee00","#ff0000","#00ee00","#ff0000"]}},
             "strokeDash": {"field": "s", "type": "nominal", "scale": {"domain": ["PFF","FFF","PPF","FPF","PPR","FPR"], "range": [[1,0],[1,0],[8,4],[8,4],[1.5,3],[1.5,3]]}}
           }}
        ]
      },
      {
        "width": 149, "height": 125, "title": "(d) RMSE",
        "layer": [
          {"data": {"name": "ref1"}, "mark": {"type": "line", "strokeDash": [6, 4], "strokeWidth": 1.8},
           "encoding": {
             "x": {"field": "x", "type": "quantitative", "scale": {"domain": [0, 2]}, "axis": {"values": [0, 1, 2], "title": null, "format": "~g"}},
             "y": {"field": "y", "type": "quantitative", "scale": {"domain": [0.2, 1]}, "axis": {"values": [0.2, 0.4, 0.6, 0.8, 1], "title": null, "format": "~g"}},
             "stroke": {"field": "r", "type": "nominal", "scale": {"domain": ["sqrt", "std"], "range": ["#ff00ff", "#0000ff"]},
               "legend": {"title": null, "orient": "none", "legendX": 948, "legendY": 47, "padding": 0, "clipHeight": 16, "symbolType": "stroke", "symbolSize": 289, "symbolDash": [4, 3], "symbolStrokeWidth": 1, "labelFont": "Liberation Serif", "labelFontSize": 15, "labelOffset": 13, "rowPadding": 20, "labelColor": "#ff00ff",
                 "labelExpr": "datum.label == 'sqrt' ? '√r̅ᵒ̅' : 'Std(uᵢ)'",
                 "encode": {"labels": {"update": {"fill": {"signal": "datum.value == 'std' ? '#0000ff' : '#ff00ff'"}}}}}}
           }},
          {"data": {"name": "r1d"}, "transform": [{"filter": "datum.s != 'PPR' && datum.s != 'FPR'"}], "mark": {"type": "line", "strokeWidth": 2.2},
           "encoding": {
             "x": {"field": "x", "type": "quantitative", "scale": {"domain": [0, 2]}, "axis": {"values": [0, 1, 2], "title": null, "format": "~g"}},
             "y": {"field": "y", "type": "quantitative", "scale": {"domain": [0.2, 1]}, "axis": {"values": [0.2, 0.4, 0.6, 0.8, 1], "title": null, "format": "~g"}},
             "color": {"field": "s", "type": "nominal", "scale": {"domain": ["PFF","FFF","PPF","FPF","PPR","FPR"], "range": ["#00ee00","#ff0000","#00ee00","#ff0000","#00ee00","#ff0000"]}},
             "strokeDash": {"field": "s", "type": "nominal", "scale": {"domain": ["PFF","FFF","PPF","FPF","PPR","FPR"], "range": [[1,0],[1,0],[8,4],[8,4],[1.5,3],[1.5,3]]}}
           }},
          {"data": {"name": "r1d"}, "transform": [{"filter": "datum.s == 'PPR' || datum.s == 'FPR'"}], "mark": {"type": "line", "strokeWidth": 1.3},
           "encoding": {
             "x": {"field": "x", "type": "quantitative", "scale": {"domain": [0, 2]}, "axis": {"values": [0, 1, 2], "title": null, "format": "~g"}},
             "y": {"field": "y", "type": "quantitative", "scale": {"domain": [0.2, 1]}, "axis": {"values": [0.2, 0.4, 0.6, 0.8, 1], "title": null, "format": "~g"}},
             "color": {"field": "s", "type": "nominal", "scale": {"domain": ["PFF","FFF","PPF","FPF","PPR","FPR"], "range": ["#00ee00","#ff0000","#00ee00","#ff0000","#00ee00","#ff0000"]}},
             "strokeDash": {"field": "s", "type": "nominal", "scale": {"domain": ["PFF","FFF","PPF","FPF","PPR","FPR"], "range": [[1,0],[1,0],[8,4],[8,4],[1.5,3],[1.5,3]]}}
           }}
        ]
      },
      {
        "width": 149, "height": 125, "title": "(e) PC",
        "layer": [
          {"data": {"name": "r1e"}, "transform": [{"filter": "datum.s != 'PPR' && datum.s != 'FPR'"}], "mark": {"type": "line", "strokeWidth": 2.2},
           "encoding": {
             "x": {"field": "x", "type": "quantitative", "scale": {"domain": [0, 2]}, "axis": {"values": [0, 1, 2], "title": null, "format": "~g"}},
             "y": {"field": "y", "type": "quantitative", "scale": {"domain": [0.4, 1]}, "axis": {"values": [0.4, 0.6, 0.8, 1], "title": null, "format": "~g"}},
             "color": {"field": "s", "type": "nominal", "scale": {"domain": ["PFF","FFF","PPF","FPF","PPR","FPR"], "range": ["#00ee00","#ff0000","#00ee00","#ff0000","#00ee00","#ff0000"]}},
             "strokeDash": {"field": "s", "type": "nominal", "scale": {"domain": ["PFF","FFF","PPF","FPF","PPR","FPR"], "range": [[1,0],[1,0],[8,4],[8,4],[1.5,3],[1.5,3]]}}
           }},
          {"data": {"name": "r1e"}, "transform": [{"filter": "datum.s == 'PPR' || datum.s == 'FPR'"}], "mark": {"type": "line", "strokeWidth": 1.3},
           "encoding": {
             "x": {"field": "x", "type": "quantitative", "scale": {"domain": [0, 2]}, "axis": {"values": [0, 1, 2], "title": null, "format": "~g"}},
             "y": {"field": "y", "type": "quantitative", "scale": {"domain": [0.4, 1]}, "axis": {"values": [0.4, 0.6, 0.8, 1], "title": null, "format": "~g"}},
             "color": {"field": "s", "type": "nominal", "scale": {"domain": ["PFF","FFF","PPF","FPF","PPR","FPR"], "range": ["#00ee00","#ff0000","#00ee00","#ff0000","#00ee00","#ff0000"]}},
             "strokeDash": {"field": "s", "type": "nominal", "scale": {"domain": ["PFF","FFF","PPF","FPF","PPR","FPR"], "range": [[1,0],[1,0],[8,4],[8,4],[1.5,3],[1.5,3]]}}
           }}
        ]
      }
    ]},
    {"spacing": -8, "hconcat": [
      {
        "width": 149, "height": 125,
        "resolve": {"scale": {"y": "independent"}},
        "layer": [
          {"data": {"name": "r2a"}, "mark": {"type": "line", "strokeWidth": 2.2},
           "encoding": {
             "x": {"field": "x", "type": "quantitative", "scale": {"domain": [0, 2]}, "axis": {"values": [0, 1, 2], "title": null, "format": "~g"}},
             "y": {"field": "y", "type": "quantitative", "scale": {"domain": [-1.5, 0]}, "axis": {"values": [-1.5, -1, -0.5, 0], "title": null, "format": "~g"}},
             "color": {"field": "s", "type": "nominal", "scale": {"domain": ["PFF","FFF","PPF","FPF","PPR","FPR"], "range": ["#00ee00","#ff0000","#00ee00","#ff0000","#00ee00","#ff0000"]}},
             "strokeDash": {"field": "s", "type": "nominal", "scale": {"domain": ["PFF","FFF","PPF","FPF","PPR","FPR"], "range": [[1,0],[1,0],[8,4],[8,4],[1.5,3],[1.5,3]]}}
           }},
          {"data": {"name": "labU"}, "mark": {"type": "text", "font": "Liberation Serif", "fontWeight": "bold", "fontSize": 32, "baseline": "alphabetic"},
           "encoding": {"x": {"field": "x", "type": "quantitative", "scale": {"domain": [0, 2]}}, "y": {"field": "f", "type": "quantitative", "scale": {"domain": [0, 1]}, "axis": null}, "text": {"field": "t"}}},
          {"data": {"name": "labSub2"}, "mark": {"type": "text", "font": "Liberation Serif", "fontWeight": "bold", "fontSize": 24, "baseline": "alphabetic"},
           "encoding": {"x": {"field": "x", "type": "quantitative", "scale": {"domain": [0, 2]}}, "y": {"field": "f", "type": "quantitative", "scale": {"domain": [0, 1]}, "axis": null}, "text": {"field": "t"}}},
          {"data": {"name": "annShaft"}, "mark": {"type": "rule", "color": "black", "strokeWidth": 1},
           "encoding": {"x": {"field": "x", "type": "quantitative", "scale": {"domain": [0, 2]}}, "y": {"field": "f", "type": "quantitative", "scale": {"domain": [0, 1]}, "axis": null}, "y2": {"field": "f2"}}},
          {"data": {"name": "annUp"}, "mark": {"type": "point", "shape": "triangle-up", "filled": true, "color": "black", "opacity": 1, "size": 40},
           "encoding": {"x": {"field": "x", "type": "quantitative", "scale": {"domain": [0, 2]}}, "y": {"field": "f", "type": "quantitative", "scale": {"domain": [0, 1]}, "axis": null}}},
          {"data": {"name": "annDown"}, "mark": {"type": "point", "shape": "triangle-down", "filled": true, "color": "black", "opacity": 1, "size": 40},
           "encoding": {"x": {"field": "x", "type": "quantitative", "scale": {"domain": [0, 2]}}, "y": {"field": "f", "type": "quantitative", "scale": {"domain": [0, 1]}, "axis": null}}},
          {"data": {"name": "annWB"}, "mark": {"type": "text", "font": "Liberation Serif", "fontWeight": "bold", "fontSize": 12, "dx": 4, "baseline": "middle"},
           "encoding": {"x": {"field": "x", "type": "quantitative", "scale": {"domain": [0, 2]}}, "y": {"field": "f", "type": "quantitative", "scale": {"domain": [0, 1]}, "axis": null}, "text": {"field": "k"}}}
        ]
      },
      {
        "width": 149, "height": 125,
        "resolve": {"scale": {"y": "independent"}},
        "layer": [
          {"data": {"name": "r2b"}, "mark": {"type": "line", "strokeWidth": 2.2},
           "encoding": {
             "x": {"field": "x", "type": "quantitative", "scale": {"domain": [0, 2]}, "axis": {"values": [0, 1, 2], "title": null, "format": "~g"}},
             "y": {"field": "y", "type": "quantitative", "scale": {"domain": [0, 1.5]}, "axis": {"values": [0, 0.5, 1, 1.5], "title": null, "format": "~g"}},
             "color": {"field": "s", "type": "nominal", "scale": {"domain": ["PFF","FFF","PPF","FPF","PPR","FPR"], "range": ["#00ee00","#ff0000","#00ee00","#ff0000","#00ee00","#ff0000"]}},
             "strokeDash": {"field": "s", "type": "nominal", "scale": {"domain": ["PFF","FFF","PPF","FPF","PPR","FPR"], "range": [[1,0],[1,0],[8,4],[8,4],[1.5,3],[1.5,3]]}}
           }},
          {"data": {"name": "annShaft"}, "mark": {"type": "rule", "color": "black", "strokeWidth": 1},
           "encoding": {"x": {"field": "x", "type": "quantitative", "scale": {"domain": [0, 2]}}, "y": {"field": "f", "type": "quantitative", "scale": {"domain": [0, 1]}, "axis": null}, "y2": {"field": "f2"}}},
          {"data": {"name": "annUp"}, "mark": {"type": "point", "shape": "triangle-up", "filled": true, "color": "black", "opacity": 1, "size": 40},
           "encoding": {"x": {"field": "x", "type": "quantitative", "scale": {"domain": [0, 2]}}, "y": {"field": "f", "type": "quantitative", "scale": {"domain": [0, 1]}, "axis": null}}},
          {"data": {"name": "annDown"}, "mark": {"type": "point", "shape": "triangle-down", "filled": true, "color": "black", "opacity": 1, "size": 40},
           "encoding": {"x": {"field": "x", "type": "quantitative", "scale": {"domain": [0, 2]}}, "y": {"field": "f", "type": "quantitative", "scale": {"domain": [0, 1]}, "axis": null}}},
          {"data": {"name": "annBW"}, "mark": {"type": "text", "font": "Liberation Serif", "fontWeight": "bold", "fontSize": 12, "dx": 4, "baseline": "middle"},
           "encoding": {"x": {"field": "x", "type": "quantitative", "scale": {"domain": [0, 2]}}, "y": {"field": "f", "type": "quantitative", "scale": {"domain": [0, 1]}, "axis": null}, "text": {"field": "k"}}}
        ]
      },
      {
        "width": 149, "height": 125,
        "resolve": {"scale": {"y": "independent"}},
        "layer": [
          {"data": {"name": "r2c"}, "mark": {"type": "line", "strokeWidth": 2.2},
           "encoding": {
             "x": {"field": "x", "type": "quantitative", "scale": {"domain": [0, 2]}, "axis": {"values": [0, 1, 2], "title": null, "format": "~g"}},
             "y": {"field": "y", "type": "quantitative", "scale": {"domain": [0, 0.2]}, "axis": {"values": [0, 0.05, 0.1, 0.15, 0.2], "title": null, "format": "~g"}},
             "color": {"field": "s", "type": "nominal", "scale": {"domain": ["PFF","FFF","PPF","FPF","PPR","FPR"], "range": ["#00ee00","#ff0000","#00ee00","#ff0000","#00ee00","#ff0000"]}},
             "strokeDash": {"field": "s", "type": "nominal", "scale": {"domain": ["PFF","FFF","PPF","FPF","PPR","FPR"], "range": [[1,0],[1,0],[8,4],[8,4],[1.5,3],[1.5,3]]}}
           }},
          {"data": {"name": "annShaft"}, "mark": {"type": "rule", "color": "black", "strokeWidth": 1},
           "encoding": {"x": {"field": "x", "type": "quantitative", "scale": {"domain": [0, 2]}}, "y": {"field": "f", "type": "quantitative", "scale": {"domain": [0, 1]}, "axis": null}, "y2": {"field": "f2"}}},
          {"data": {"name": "annUp"}, "mark": {"type": "point", "shape": "triangle-up", "filled": true, "color": "black", "opacity": 1, "size": 40},
           "encoding": {"x": {"field": "x", "type": "quantitative", "scale": {"domain": [0, 2]}}, "y": {"field": "f", "type": "quantitative", "scale": {"domain": [0, 1]}, "axis": null}}},
          {"data": {"name": "annDown"}, "mark": {"type": "point", "shape": "triangle-down", "filled": true, "color": "black", "opacity": 1, "size": 40},
           "encoding": {"x": {"field": "x", "type": "quantitative", "scale": {"domain": [0, 2]}}, "y": {"field": "f", "type": "quantitative", "scale": {"domain": [0, 1]}, "axis": null}}},
          {"data": {"name": "annWB"}, "mark": {"type": "text", "font": "Liberation Serif", "fontWeight": "bold", "fontSize": 12, "dx": 4, "baseline": "middle"},
           "encoding": {"x": {"field": "x", "type": "quantitative", "scale": {"domain": [0, 2]}}, "y": {"field": "f", "type": "quantitative", "scale": {"domain": [0, 1]}, "axis": null}, "text": {"field": "k"}}}
        ]
      },
      {
        "width": 149, "height": 125,
        "resolve": {"scale": {"y": "independent"}},
        "layer": [
          {"data": {"name": "ref2"}, "mark": {"type": "line", "strokeDash": [6, 4], "strokeWidth": 1.3},
           "encoding": {
             "x": {"field": "x", "type": "quantitative", "scale": {"domain": [0, 2]}, "axis": {"values": [0, 1, 2], "title": null, "format": "~g"}},
             "y": {"field": "y", "type": "quantitative", "scale": {"domain": [0.2, 1]}, "axis": null},
             "stroke": {"field": "r", "type": "nominal", "scale": {"domain": ["sqrt", "std"], "range": ["#ff00ff", "#0000ff"]}}
           }},
          {"data": {"name": "r2d"}, "mark": {"type": "line", "strokeWidth": 2.2},
           "encoding": {
             "x": {"field": "x", "type": "quantitative", "scale": {"domain": [0, 2]}, "axis": {"values": [0, 1, 2], "title": null, "format": "~g"}},
             "y": {"field": "y", "type": "quantitative", "scale": {"domain": [0.2, 1]}, "axis": {"values": [0.2, 0.4, 0.6, 0.8, 1], "title": null, "format": "~g"}},
             "color": {"field": "s", "type": "nominal", "scale": {"domain": ["PFF","FFF","PPF","FPF","PPR","FPR"], "range": ["#00ee00","#ff0000","#00ee00","#ff0000","#00ee00","#ff0000"]}},
             "strokeDash": {"field": "s", "type": "nominal", "scale": {"domain": ["PFF","FFF","PPF","FPF","PPR","FPR"], "range": [[1,0],[1,0],[8,4],[8,4],[1.5,3],[1.5,3]]}}
           }},
          {"data": {"name": "annShaft"}, "mark": {"type": "rule", "color": "black", "strokeWidth": 1},
           "encoding": {"x": {"field": "x", "type": "quantitative", "scale": {"domain": [0, 2]}}, "y": {"field": "f", "type": "quantitative", "scale": {"domain": [0, 1]}, "axis": null}, "y2": {"field": "f2"}}},
          {"data": {"name": "annUp"}, "mark": {"type": "point", "shape": "triangle-up", "filled": true, "color": "black", "opacity": 1, "size": 40},
           "encoding": {"x": {"field": "x", "type": "quantitative", "scale": {"domain": [0, 2]}}, "y": {"field": "f", "type": "quantitative", "scale": {"domain": [0, 1]}, "axis": null}}},
          {"data": {"name": "annDown"}, "mark": {"type": "point", "shape": "triangle-down", "filled": true, "color": "black", "opacity": 1, "size": 40},
           "encoding": {"x": {"field": "x", "type": "quantitative", "scale": {"domain": [0, 2]}}, "y": {"field": "f", "type": "quantitative", "scale": {"domain": [0, 1]}, "axis": null}}},
          {"data": {"name": "annWB"}, "mark": {"type": "text", "font": "Liberation Serif", "fontWeight": "bold", "fontSize": 12, "dx": 4, "baseline": "middle"},
           "encoding": {"x": {"field": "x", "type": "quantitative", "scale": {"domain": [0, 2]}}, "y": {"field": "f", "type": "quantitative", "scale": {"domain": [0, 1]}, "axis": null}, "text": {"field": "k"}}}
        ]
      },
      {
        "width": 149, "height": 125,
        "resolve": {"scale": {"y": "independent"}},
        "layer": [
          {"data": {"name": "r2e"}, "mark": {"type": "line", "strokeWidth": 2.2},
           "encoding": {
             "x": {"field": "x", "type": "quantitative", "scale": {"domain": [0, 2]}, "axis": {"values": [0, 1, 2], "title": null, "format": "~g"}},
             "y": {"field": "y", "type": "quantitative", "scale": {"domain": [0, 1]}, "axis": {"values": [0, 0.5, 1], "title": null, "format": "~g"}},
             "color": {"field": "s", "type": "nominal", "scale": {"domain": ["PFF","FFF","PPF","FPF","PPR","FPR"], "range": ["#00ee00","#ff0000","#00ee00","#ff0000","#00ee00","#ff0000"]}},
             "strokeDash": {"field": "s", "type": "nominal", "scale": {"domain": ["PFF","FFF","PPF","FPF","PPR","FPR"], "range": [[1,0],[1,0],[8,4],[8,4],[1.5,3],[1.5,3]]}}
           }},
          {"data": {"name": "annShaft"}, "mark": {"type": "rule", "color": "black", "strokeWidth": 1},
           "encoding": {"x": {"field": "x", "type": "quantitative", "scale": {"domain": [0, 2]}}, "y": {"field": "f", "type": "quantitative", "scale": {"domain": [0, 1]}, "axis": null}, "y2": {"field": "f2"}}},
          {"data": {"name": "annUp"}, "mark": {"type": "point", "shape": "triangle-up", "filled": true, "color": "black", "opacity": 1, "size": 40},
           "encoding": {"x": {"field": "x", "type": "quantitative", "scale": {"domain": [0, 2]}}, "y": {"field": "f", "type": "quantitative", "scale": {"domain": [0, 1]}, "axis": null}}},
          {"data": {"name": "annDown"}, "mark": {"type": "point", "shape": "triangle-down", "filled": true, "color": "black", "opacity": 1, "size": 40},
           "encoding": {"x": {"field": "x", "type": "quantitative", "scale": {"domain": [0, 2]}}, "y": {"field": "f", "type": "quantitative", "scale": {"domain": [0, 1]}, "axis": null}}},
          {"data": {"name": "annBW"}, "mark": {"type": "text", "font": "Liberation Serif", "fontWeight": "bold", "fontSize": 12, "dx": 4, "baseline": "middle"},
           "encoding": {"x": {"field": "x", "type": "quantitative", "scale": {"domain": [0, 2]}}, "y": {"field": "f", "type": "quantitative", "scale": {"domain": [0, 1]}, "axis": null}, "text": {"field": "k"}}}
        ]
      }
    ]},
    {"spacing": 22.4, "hconcat": [
      {
        "width": 149, "height": 125,
        "resolve": {"scale": {"y": "independent"}},
        "layer": [
          {"data": {"name": "r3a"}, "mark": {"type": "line", "strokeWidth": 2.2},
           "encoding": {
             "x": {"field": "x", "type": "quantitative", "scale": {"domain": [0, 2]}, "axis": {"values": [0, 1, 2], "title": null, "format": "~g"}},
             "y": {"field": "y", "type": "quantitative", "scale": {"domain": [-1.5, 0]}, "axis": {"values": [-1.5, -1, -0.5, 0], "title": null, "format": "~g"}},
             "color": {"field": "s", "type": "nominal", "scale": {"domain": ["PFF","FFF","PPF","FPF","PPR","FPR"], "range": ["#00ee00","#ff0000","#00ee00","#ff0000","#00ee00","#ff0000"]}},
             "strokeDash": {"field": "s", "type": "nominal", "scale": {"domain": ["PFF","FFF","PPF","FPF","PPR","FPR"], "range": [[1,0],[1,0],[8,4],[8,4],[1.5,3],[1.5,3]]}}
           }},
          {"data": {"name": "labU"}, "mark": {"type": "text", "font": "Liberation Serif", "fontWeight": "bold", "fontSize": 32, "baseline": "alphabetic"},
           "encoding": {"x": {"field": "x", "type": "quantitative", "scale": {"domain": [0, 2]}}, "y": {"field": "f", "type": "quantitative", "scale": {"domain": [0, 1]}, "axis": null}, "text": {"field": "t"}}},
          {"data": {"name": "labSub3"}, "mark": {"type": "text", "font": "Liberation Serif", "fontWeight": "bold", "fontSize": 24, "baseline": "alphabetic"},
           "encoding": {"x": {"field": "x", "type": "quantitative", "scale": {"domain": [0, 2]}}, "y": {"field": "f", "type": "quantitative", "scale": {"domain": [0, 1]}, "axis": null}, "text": {"field": "t"}}},
          {"data": {"name": "labDt"}, "mark": {"type": "text", "font": "Liberation Sans", "fontSize": 14, "baseline": "alphabetic"},
           "encoding": {"x": {"field": "x", "type": "quantitative", "scale": {"domain": [0, 2]}}, "y": {"field": "f", "type": "quantitative", "scale": {"domain": [0, 1]}, "axis": null}, "text": {"field": "t"}}},
          {"data": {"name": "labObs"}, "mark": {"type": "text", "font": "Liberation Sans", "fontSize": 11, "baseline": "alphabetic"},
           "encoding": {"x": {"field": "x", "type": "quantitative", "scale": {"domain": [0, 2]}}, "y": {"field": "f", "type": "quantitative", "scale": {"domain": [0, 1]}, "axis": null}, "text": {"field": "t"}}}
        ]
      },
      {
        "width": 149, "height": 125,
        "resolve": {"scale": {"y": "independent"}},
        "layer": [
          {"data": {"name": "r3b"}, "mark": {"type": "line", "strokeWidth": 2.2},
           "encoding": {
             "x": {"field": "x", "type": "quantitative", "scale": {"domain": [0, 2]}, "axis": {"values": [0, 1, 2], "title": null, "format": "~g"}},
             "y": {"field": "y", "type": "quantitative", "scale": {"domain": [0, 1.5]}, "axis": {"values": [0, 0.5, 1, 1.5], "title": null, "format": "~g"}},
             "color": {"field": "s", "type": "nominal", "scale": {"domain": ["PFF","FFF","PPF","FPF","PPR","FPR"], "range": ["#00ee00","#ff0000","#00ee00","#ff0000","#00ee00","#ff0000"]}},
             "strokeDash": {"field": "s", "type": "nominal", "scale": {"domain": ["PFF","FFF","PPF","FPF","PPR","FPR"], "range": [[1,0],[1,0],[8,4],[8,4],[1.5,3],[1.5,3]]}}
           }},
          {"data": {"name": "labDt"}, "mark": {"type": "text", "font": "Liberation Sans", "fontSize": 14, "baseline": "alphabetic"},
           "encoding": {"x": {"field": "x", "type": "quantitative", "scale": {"domain": [0, 2]}}, "y": {"field": "f", "type": "quantitative", "scale": {"domain": [0, 1]}, "axis": null}, "text": {"field": "t"}}},
          {"data": {"name": "labObs"}, "mark": {"type": "text", "font": "Liberation Sans", "fontSize": 11, "baseline": "alphabetic"},
           "encoding": {"x": {"field": "x", "type": "quantitative", "scale": {"domain": [0, 2]}}, "y": {"field": "f", "type": "quantitative", "scale": {"domain": [0, 1]}, "axis": null}, "text": {"field": "t"}}}
        ]
      },
      {
        "width": 149, "height": 125,
        "resolve": {"scale": {"y": "independent"}},
        "layer": [
          {"data": {"name": "r3c"}, "mark": {"type": "line", "strokeWidth": 2.2},
           "encoding": {
             "x": {"field": "x", "type": "quantitative", "scale": {"domain": [0, 2]}, "axis": {"values": [0, 1, 2], "title": null, "format": "~g"}},
             "y": {"field": "y", "type": "quantitative", "scale": {"domain": [0, 6]}, "axis": {"values": [0, 2, 4, 6], "title": null, "format": "~g"}},
             "color": {"field": "s", "type": "nominal", "scale": {"domain": ["PFF","FFF","PPF","FPF","PPR","FPR"], "range": ["#00ee00","#ff0000","#00ee00","#ff0000","#00ee00","#ff0000"]}},
             "strokeDash": {"field": "s", "type": "nominal", "scale": {"domain": ["PFF","FFF","PPF","FPF","PPR","FPR"], "range": [[1,0],[1,0],[8,4],[8,4],[1.5,3],[1.5,3]]}}
           }},
          {"data": {"name": "labDt"}, "mark": {"type": "text", "font": "Liberation Sans", "fontSize": 14, "baseline": "alphabetic"},
           "encoding": {"x": {"field": "x", "type": "quantitative", "scale": {"domain": [0, 2]}}, "y": {"field": "f", "type": "quantitative", "scale": {"domain": [0, 1]}, "axis": null}, "text": {"field": "t"}}},
          {"data": {"name": "labObs"}, "mark": {"type": "text", "font": "Liberation Sans", "fontSize": 11, "baseline": "alphabetic"},
           "encoding": {"x": {"field": "x", "type": "quantitative", "scale": {"domain": [0, 2]}}, "y": {"field": "f", "type": "quantitative", "scale": {"domain": [0, 1]}, "axis": null}, "text": {"field": "t"}}}
        ]
      },
      {
        "width": 149, "height": 125,
        "resolve": {"scale": {"y": "independent"}},
        "layer": [
          {"data": {"name": "ref3"}, "mark": {"type": "line", "strokeDash": [6, 4], "strokeWidth": 1.3},
           "encoding": {
             "x": {"field": "x", "type": "quantitative", "scale": {"domain": [0, 2]}, "axis": {"values": [0, 1, 2], "title": null, "format": "~g"}},
             "y": {"field": "y", "type": "quantitative", "scale": {"domain": [0.2, 1]}, "axis": null},
             "stroke": {"field": "r", "type": "nominal", "scale": {"domain": ["sqrt", "std"], "range": ["#ff00ff", "#0000ff"]}}
           }},
          {"data": {"name": "r3d"}, "mark": {"type": "line", "strokeWidth": 2.2},
           "encoding": {
             "x": {"field": "x", "type": "quantitative", "scale": {"domain": [0, 2]}, "axis": {"values": [0, 1, 2], "title": null, "format": "~g"}},
             "y": {"field": "y", "type": "quantitative", "scale": {"domain": [0.2, 1]}, "axis": {"values": [0.2, 0.4, 0.6, 0.8, 1], "title": null, "format": "~g"}},
             "color": {"field": "s", "type": "nominal", "scale": {"domain": ["PFF","FFF","PPF","FPF","PPR","FPR"], "range": ["#00ee00","#ff0000","#00ee00","#ff0000","#00ee00","#ff0000"]}},
             "strokeDash": {"field": "s", "type": "nominal", "scale": {"domain": ["PFF","FFF","PPF","FPF","PPR","FPR"], "range": [[1,0],[1,0],[8,4],[8,4],[1.5,3],[1.5,3]]}}
           }},
          {"data": {"name": "labDt"}, "mark": {"type": "text", "font": "Liberation Sans", "fontSize": 14, "baseline": "alphabetic"},
           "encoding": {"x": {"field": "x", "type": "quantitative", "scale": {"domain": [0, 2]}}, "y": {"field": "f", "type": "quantitative", "scale": {"domain": [0, 1]}, "axis": null}, "text": {"field": "t"}}},
          {"data": {"name": "labObs"}, "mark": {"type": "text", "font": "Liberation Sans", "fontSize": 11, "baseline": "alphabetic"},
           "encoding": {"x": {"field": "x", "type": "quantitative", "scale": {"domain": [0, 2]}}, "y": {"field": "f", "type": "quantitative", "scale": {"domain": [0, 1]}, "axis": null}, "text": {"field": "t"}}}
        ]
      },
      {
        "width": 149, "height": 125,
        "resolve": {"scale": {"y": "independent"}},
        "layer": [
          {"data": {"name": "r3e"}, "mark": {"type": "line", "strokeWidth": 2.2},
           "encoding": {
             "x": {"field": "x", "type": "quantitative", "scale": {"domain": [0, 2]}, "axis": {"values": [0, 1, 2], "title": null, "format": "~g"}},
             "y": {"field": "y", "type": "quantitative", "scale": {"domain": [0, 1]}, "axis": {"values": [0, 0.5, 1], "title": null, "format": "~g"}},
             "color": {"field": "s", "type": "nominal", "scale": {"domain": ["PFF","FFF","PPF","FPF","PPR","FPR"], "range": ["#00ee00","#ff0000","#00ee00","#ff0000","#00ee00","#ff0000"]}},
             "strokeDash": {"field": "s", "type": "nominal", "scale": {"domain": ["PFF","FFF","PPF","FPF","PPR","FPR"], "range": [[1,0],[1,0],[8,4],[8,4],[1.5,3],[1.5,3]]}}
           }},
          {"data": {"name": "labDt"}, "mark": {"type": "text", "font": "Liberation Sans", "fontSize": 14, "baseline": "alphabetic"},
           "encoding": {"x": {"field": "x", "type": "quantitative", "scale": {"domain": [0, 2]}}, "y": {"field": "f", "type": "quantitative", "scale": {"domain": [0, 1]}, "axis": null}, "text": {"field": "t"}}},
          {"data": {"name": "labObs"}, "mark": {"type": "text", "font": "Liberation Sans", "fontSize": 11, "baseline": "alphabetic"},
           "encoding": {"x": {"field": "x", "type": "quantitative", "scale": {"domain": [0, 2]}}, "y": {"field": "f", "type": "quantitative", "scale": {"domain": [0, 1]}, "axis": null}, "text": {"field": "t"}}}
        ]
      }
    ]}
  ],
  "config": {
    "view": {"stroke": "black", "strokeWidth": 1},
    "axis": {"grid": false, "domain": false, "ticks": false, "labelPadding": 4, "labelFont": "Liberation Sans", "labelFontSize": 14, "labelColor": "black"},
    "title": {"font": "Liberation Sans", "fontSize": 14, "fontWeight": "normal", "color": "black", "offset": 2}
  }
}
